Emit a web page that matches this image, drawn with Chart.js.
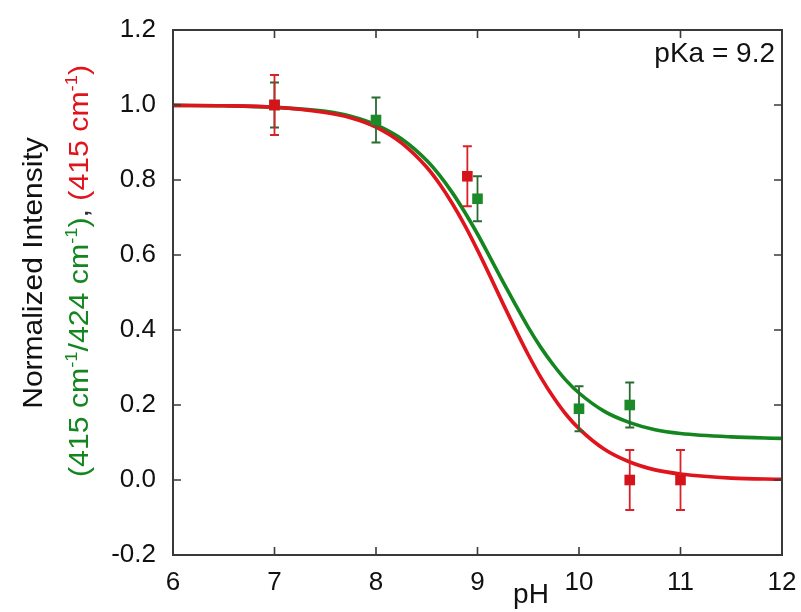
<!DOCTYPE html>
<html>
<head>
<meta charset="utf-8">
<script src="https://cdn.jsdelivr.net/npm/chart.js@4/dist/chart.umd.min.js"></script>
<style>
html,body{margin:0;padding:0;background:#fff;}
#wrap{width:801px;height:612px;}
</style>
</head>
<body>
<div id="wrap"><canvas id="c" width="801" height="612"></canvas></div>
<script>
// ---- data ----
const curvePH = [6, 6.5, 7, 7.5, 7.75, 8, 8.25, 8.5, 8.625, 8.75, 8.875, 9, 9.125, 9.25, 9.375, 9.5, 9.625, 9.75, 9.875, 10, 10.25, 10.5, 10.75, 11, 11.5, 12];
const redCurve = [0.999, 0.998, 0.994, 0.980, 0.966, 0.941, 0.899, 0.834, 0.790, 0.738, 0.679, 0.613, 0.543, 0.471, 0.401, 0.334, 0.273, 0.220, 0.174, 0.137, 0.082, 0.048, 0.027, 0.016, 0.005, 0.002];
const greenCurve = [0.999, 0.998, 0.994, 0.983, 0.970, 0.947, 0.910, 0.852, 0.813, 0.767, 0.714, 0.656, 0.593, 0.529, 0.467, 0.407, 0.353, 0.306, 0.265, 0.232, 0.183, 0.153, 0.134, 0.124, 0.115, 0.111];

const greenPH = [7, 8, 9, 10, 10.5];
const greenVal = [1.0, 0.96, 0.75, 0.19, 0.20];
const greenErr = [0.06, 0.06, 0.06, 0.06, 0.06];

const redPH = [7, 8.9, 10.5, 11];
const redVal = [1.0, 0.81, 0.0, 0.0];
const redErr = [0.08, 0.08, 0.08, 0.08];

const xTicks = [6, 7, 8, 9, 10, 11, 12];
const yTicks = [-0.2, 0, 0.2, 0.4, 0.6, 0.8, 1.0, 1.2];

const annotation = 'pKa = 9.2';
const xTitle = 'pH';
const yTitle1 = 'Normalized Intensity';

// ---- colours / styles ----
const RED = '#e0141c';
const GREEN = '#14861f';
const RED_BAR = '#d8222a';
const GREEN_BAR = '#2c6a33';
const FONT = '"Liberation Sans", Arial, sans-serif';

const toXY = (xs, ys) => xs.map((x, i) => ({x: x, y: ys[i]}));

const errBarPlugin = {
  id: 'errbars',
  beforeDatasetDraw(chart, args) {
    const ds = chart.data.datasets[args.index];
    if (!ds.errors) return;
    const ctx = chart.ctx, xs = chart.scales.x, ys = chart.scales.y;
    ctx.save();
    ctx.strokeStyle = ds.barColor;
    ctx.lineWidth = 1.8;
    ds.data.forEach((p, i) => {
      const e = ds.errors[i];
      const px = xs.getPixelForValue(p.x);
      const top = ys.getPixelForValue(p.y + e);
      const bot = ys.getPixelForValue(p.y - e);
      ctx.beginPath();
      ctx.moveTo(px, top); ctx.lineTo(px, bot);
      ctx.moveTo(px - 4.5, top); ctx.lineTo(px + 4.5, top);
      ctx.moveTo(px - 4.5, bot); ctx.lineTo(px + 4.5, bot);
      ctx.stroke();
    });
    ctx.restore();
  }
};

const framePlugin = {
  id: 'frame',
  afterDraw(chart) {
    const ctx = chart.ctx, a = chart.chartArea, xs = chart.scales.x, ys = chart.scales.y;
    ctx.save();
    ctx.strokeStyle = '#3a3a3a';
    ctx.lineWidth = 2;
    ctx.strokeRect(a.left, a.top, a.right - a.left, a.bottom - a.top);
    ctx.lineWidth = 1.6;
    const L = 8;
    ctx.beginPath();
    xTicks.forEach(v => {
      const px = xs.getPixelForValue(v);
      ctx.moveTo(px, a.bottom); ctx.lineTo(px, a.bottom - L);
      ctx.moveTo(px, a.top); ctx.lineTo(px, a.top + L);
    });
    yTicks.forEach(v => {
      const py = ys.getPixelForValue(v);
      ctx.moveTo(a.left, py); ctx.lineTo(a.left + L, py);
      ctx.moveTo(a.right, py); ctx.lineTo(a.right - L, py);
    });
    ctx.stroke();

    // annotation
    ctx.fillStyle = '#111';
    ctx.font = '28px ' + FONT;
    ctx.textAlign = 'right';
    ctx.textBaseline = 'alphabetic';
    ctx.fillText(annotation, 775, 62);

    // x title
    ctx.textAlign = 'center';
    ctx.fillText(xTitle, 531, 603);

    // y title line 1
    ctx.save();
    ctx.translate(42, 273);
    ctx.rotate(-Math.PI / 2);
    ctx.scale(1.07, 1);
    ctx.textAlign = 'center';
    ctx.font = '28px ' + FONT;
    ctx.fillStyle = '#111';
    ctx.fillText(yTitle1, 0, 0);
    ctx.restore();

    // y title line 2 (mixed colours, superscripts)
    const segs = [
      ['(415 cm', GREEN, false], ['-1', GREEN, true], ['/424 cm', GREEN, false], ['-1', GREEN, true], [')', GREEN, false],
      [', ', '#333', false],
      ['(415 cm', RED, false], ['-1', RED, true], [')', RED, false]
    ];
    const big = '28px ' + FONT, small = '17px ' + FONT;
    let total = 0;
    segs.forEach(s => { ctx.font = s[2] ? small : big; total += ctx.measureText(s[0]).width; });
    ctx.save();
    ctx.translate(88, 271);
    ctx.rotate(-Math.PI / 2);
    ctx.scale(1.08, 1);
    ctx.textAlign = 'left';
    let cx = -total / 2;
    segs.forEach(s => {
      ctx.font = s[2] ? small : big;
      ctx.fillStyle = s[1];
      ctx.fillText(s[0], cx, s[2] ? -11 : 0);
      cx += ctx.measureText(s[0]).width;
    });
    ctx.restore();
    ctx.restore();
  }
};

new Chart(document.getElementById('c'), {
  type: 'scatter',
  data: {
    datasets: [
      {label: 'red pts', data: toXY(redPH, redVal), errors: redErr, barColor: RED_BAR,
       backgroundColor: '#d4131b', borderColor: '#d4131b', pointStyle: 'rect', pointRadius: 7.5, borderWidth: 0, order: 1},
      {label: 'green pts', data: toXY(greenPH, greenVal), errors: greenErr, barColor: GREEN_BAR,
       backgroundColor: '#1d8a2a', borderColor: '#1d8a2a', pointStyle: 'rect', pointRadius: 7.5, borderWidth: 0, order: 2},
      {label: 'red fit', type: 'line', data: toXY(curvePH, redCurve), borderColor: RED, borderWidth: 3.6,
       pointRadius: 0, fill: false, cubicInterpolationMode: 'monotone', order: 3},
      {label: 'green fit', type: 'line', data: toXY(curvePH, greenCurve), borderColor: GREEN, borderWidth: 3.6,
       pointRadius: 0, fill: false, cubicInterpolationMode: 'monotone', order: 4}
    ]
  },
  options: {
    responsive: false,
    devicePixelRatio: 1,
    animation: false,
    layout: {padding: {top: 30, right: 19, left: 0, bottom: 0}},
    plugins: {legend: {display: false}, tooltip: {enabled: false}},
    scales: {
      x: {
        type: 'linear', min: 6, max: 12,
        afterFit(s) { s.height = 57; s.paddingLeft = 0; s.paddingRight = 0; },
        afterBuildTicks(s) { s.ticks = xTicks.map(v => ({value: v})); },
        grid: {display: false, drawTicks: false},
        border: {display: false},
        ticks: {color: '#111', font: {size: 26, family: FONT}, padding: 12, maxRotation: 0, autoSkip: false,
                callback: v => String(v)}
      },
      y: {
        type: 'linear', min: -0.2, max: 1.2,
        afterFit(s) { s.width = 173; s.paddingTop = 0; s.paddingBottom = 0; },
        afterBuildTicks(s) { s.ticks = yTicks.map(v => ({value: v})); },
        grid: {display: false, drawTicks: false},
        border: {display: false},
        ticks: {color: '#111', font: {size: 26, family: FONT}, padding: 17, autoSkip: false,
                callback: v => Number(v).toFixed(1)}
      }
    }
  },
  plugins: [errBarPlugin, framePlugin]
});
</script>
</body>
</html>
